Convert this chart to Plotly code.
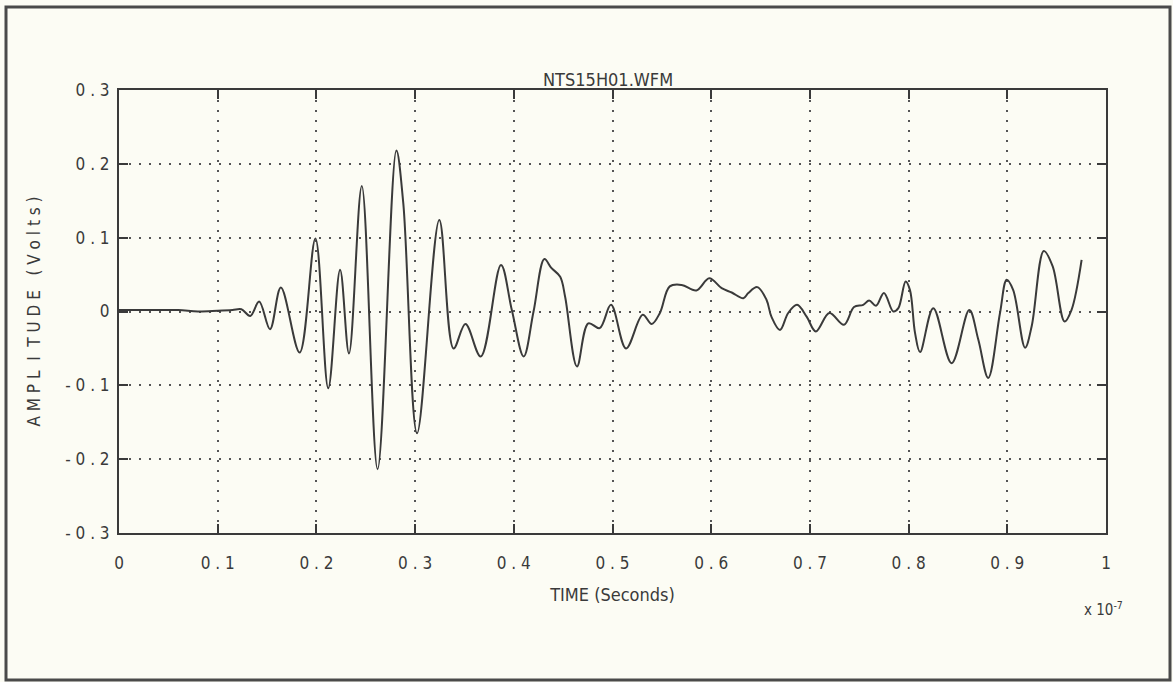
import plotly.graph_objects as go

# Time in units of 1e-7 s, amplitude in volts
time_e7 = [0.000, 0.030, 0.060, 0.080, 0.100, 0.115, 0.124, 0.133, 0.142, 0.153,
           0.164, 0.183, 0.199, 0.212, 0.224, 0.233, 0.246, 0.262, 0.281, 0.288,
           0.302, 0.3245, 0.339, 0.351, 0.3665, 0.387, 0.398, 0.410, 0.420, 0.431,
           0.438, 0.447, 0.452, 0.464, 0.4755, 0.487, 0.4985, 0.5137, 0.5306, 0.5397,
           0.548, 0.558, 0.570, 0.585, 0.598, 0.6106, 0.6208, 0.6326, 0.6376, 0.6467,
           0.656, 0.661, 0.6697, 0.678, 0.687, 0.6967, 0.706, 0.7197, 0.7345, 0.7447,
           0.754, 0.760, 0.767, 0.775, 0.7845, 0.7896, 0.797, 0.8014, 0.8065, 0.8116,
           0.825, 0.8436, 0.8615, 0.8706, 0.8807, 0.8926, 0.8994, 0.906, 0.918, 0.9247,
           0.937, 0.946, 0.958, 0.965, 0.9753]
amplitude = [0.002, 0.002, 0.002, 0.000, 0.001, 0.002, 0.003, -0.006, 0.0135, -0.024,
             0.0325, -0.0555, 0.099, -0.104, 0.0565, -0.057, 0.170, -0.2135, 0.218, 0.147,
             -0.165, 0.124, -0.050, -0.017, -0.061, 0.063, 0.002, -0.061, 0.000, 0.071,
             0.059, 0.047, 0.020, -0.0745, -0.016, -0.0225, 0.009, -0.050, -0.0045, -0.017,
             -0.002, 0.034, 0.036, 0.0285, 0.045, 0.0316, 0.0257, 0.018, 0.025, 0.033,
             0.016, -0.007, -0.025, -0.002, 0.009, -0.007, -0.027, -0.002, -0.018, 0.006,
             0.009, 0.015, 0.0077, 0.025, 0.000, 0.0045, 0.0406, 0.029, -0.029, -0.055,
             0.0045, -0.070, 0.002, -0.038, -0.090, -0.002, 0.043, 0.029, -0.049, -0.020,
             0.082, 0.061, -0.0135, 0.002, 0.070]

x_tickvals = [0, 0.1, 0.2, 0.3, 0.4, 0.5, 0.6, 0.7, 0.8, 0.9, 1.0]
x_ticktext = ["0", "0 . 1", "0 . 2", "0 . 3", "0 . 4", "0 . 5", "0 . 6", "0 . 7", "0 . 8", "0 . 9", "1"]
y_tickvals = [-0.3, -0.2, -0.1, 0, 0.1, 0.2, 0.3]
y_ticktext = ["- 0 . 3", "- 0 . 2", "- 0 . 1", "0", "0 . 1", "0 . 2", "0 . 3"]

title_text = "NTS15H01.WFM"
x_title = "TIME (Seconds)"
y_title = "A M P L  I  T U D E   ( V o l t s )"

ink = "#3a3a3a"
bg = "#fcfcf4"
font_family = "Liberation Sans Narrow, DejaVu Sans Condensed, Liberation Sans, sans-serif"

fig = go.Figure()
fig.add_trace(go.Scatter(
    x=time_e7, y=amplitude, mode="lines",
    line=dict(color=ink, width=2, shape="spline", smoothing=1.0),
    hoverinfo="skip", showlegend=False,
))

axis_common = dict(
    showline=True, linecolor=ink, linewidth=2, mirror="ticks",
    ticks="inside", ticklen=9, tickwidth=2, tickcolor=ink,
    showgrid=True, gridcolor="#555555", gridwidth=2, griddash="2px,8px",
    zeroline=False,
    tickfont=dict(family=font_family, size=17, color=ink),
)

fig.update_xaxes(range=[0, 1], tickvals=x_tickvals, ticktext=x_ticktext,
                 ticklabelstandoff=14,
                 title=dict(text=x_title, font=dict(family=font_family, size=18, color=ink), standoff=16),
                 **axis_common)
fig.update_yaxes(range=[-0.3, 0.3], tickvals=y_tickvals, ticktext=y_ticktext,
                 ticklabelstandoff=4,
                 title=dict(text=y_title, font=dict(family=font_family, size=17, color=ink), standoff=20),
                 **axis_common)

fig.update_layout(
    width=1173, height=682,
    paper_bgcolor=bg, plot_bgcolor=bg,
    margin=dict(l=119, r=67, t=90, b=149),
    annotations=[
        dict(text=title_text, xref="x", yref="paper", x=0.495, y=1.0, yanchor="bottom",
             xanchor="center", showarrow=False, yshift=-2,
             font=dict(family=font_family, size=18, color=ink)),
        dict(text="x 10<sup>-7</sup>", xref="paper", yref="paper", x=1.0, y=0, xanchor="center",
             yanchor="top", xshift=-3, yshift=-64, showarrow=False,
             font=dict(family=font_family, size=15, color=ink)),
    ],
)

# outer frame around the whole picture, in paper coordinates derived from pixels
pw = 1173 - 119 - 67
ph = 682 - 90 - 149
fig.add_shape(type="rect", xref="paper", yref="paper",
              x0=(6 - 119) / pw, x1=(1170 - 119) / pw,
              y0=(533 - 680) / ph, y1=(533 - 7) / ph,
              line=dict(color="#4a4a4a", width=3), layer="below")

fig.write_html("out.html")
